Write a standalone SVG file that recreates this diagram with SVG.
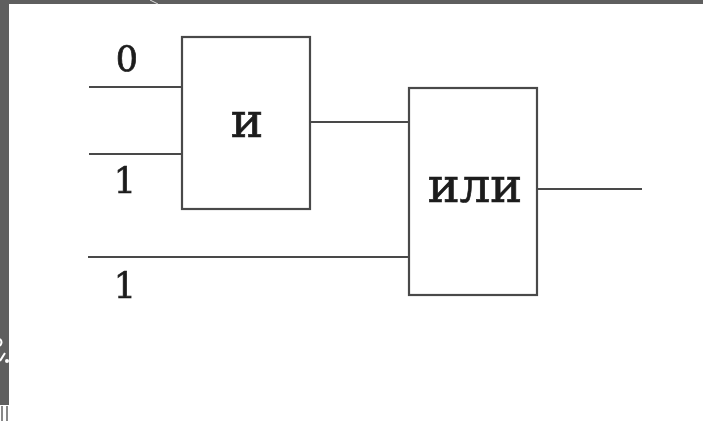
<svg xmlns="http://www.w3.org/2000/svg" width="703" height="422" viewBox="0 0 703 422">
<defs><filter id="s" x="-5%" y="-5%" width="110%" height="110%"><feGaussianBlur stdDeviation="0.5"/></filter></defs>
<style>
.b{fill:#fff;stroke:#484848;stroke-width:2.2}
.c{fill:none;stroke:#484848;stroke-width:2.2}
.t{font-family:"DejaVu Serif","Liberation Serif",serif;fill:#1c1c1c;stroke:#1c1c1c;stroke-width:0.7;text-anchor:middle}
.f{fill:#5f5f5f}
</style>
<rect width="703" height="422" fill="#fff"/>
<g id="frame">
<rect class="f" x="0" y="0" width="703" height="4"/>
<rect class="f" x="0" y="0" width="9" height="405"/>
<path d="M150 0L158 4" stroke="#ddd" stroke-width="1" fill="none"/>
<path d="M0 339Q3 342 0 346M0 361L5 353" stroke="#fff" stroke-width="2" fill="none"/>
<circle cx="7" cy="361" r="2" fill="#fff"/>
<path d="M2 406V421M7 406V421" stroke="#888" stroke-width="2" fill="none"/>
</g>
<g id="connectors" filter="url(#s)">
<path class="c" d="M89 87H182"/>
<path class="c" d="M89 154H182"/>
<path class="c" d="M88 257H409"/>
<path class="c" d="M310 122H409"/>
<path class="c" d="M537 189H642"/>
</g>
<g id="and" filter="url(#s)"><rect class="b" x="182" y="37" width="128" height="172"/>
<text class="t" x="247" y="137" font-size="49">и</text></g>
<g id="or" filter="url(#s)"><rect class="b" x="409" y="88" width="128" height="207"/>
<text class="t" x="475" y="202" font-size="48">или</text></g>
<g id="labels" filter="url(#s)">
<text class="t" x="127" y="71" font-size="35">0</text>
<text class="t" x="125" y="193" font-size="35">1</text>
<text class="t" x="125" y="298" font-size="35">1</text>
</g>
</svg>
